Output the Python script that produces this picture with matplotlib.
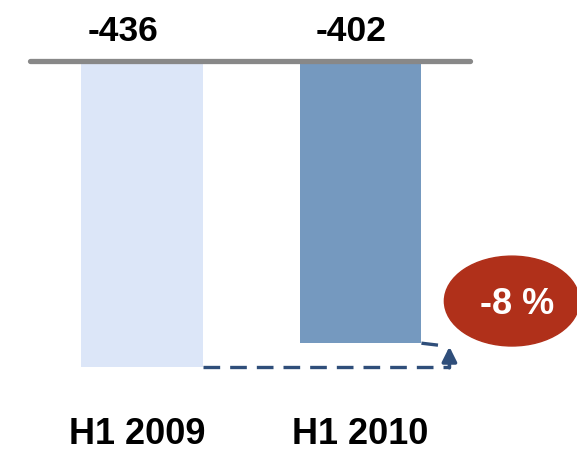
import matplotlib.pyplot as plt
from matplotlib.patches import Ellipse

periods = ['H1 2009', 'H1 2010']
values = [-436, -402]
change_label = '-8 %'
bar_colors = ['#dce6f8', '#7599bf']

plt.rcParams['font.family'] = ['Liberation Sans', 'DejaVu Sans']

fig = plt.figure(figsize=(5.77, 4.52), dpi=100)
ax = fig.add_axes([0, 0, 1, 1])
ax.set_xlim(-0.650, 1.991)
ax.set_ylim(-555.6, 88.3)
ax.axis('off')

x = list(range(len(values)))
ax.bar(x, values, width=0.558, color=bar_colors, zorder=2)

# baseline
ax.plot([-0.513, 1.501], [0, 0], color='#888888', lw=3.8,
        solid_capstyle='round', zorder=3)

# value labels above baseline
for i, v in enumerate(values):
    ax.text(i - 0.085 + 0.04 * i, 43, str(v), ha='center', va='center',
            fontsize=25.5, fontweight='bold', color='black')

# period labels
for i, p in enumerate(periods):
    ax.text(i - 0.02 * (1 - i), -530, p, ha='center', va='center',
            fontsize=26, fontweight='bold', color='black')

# dashed comparison line + arrow
arrow_c = '#2f4e7a'
half = 0.558 / 2
ax_x = 1.407
ax.plot([0 + half, ax_x], [values[0], values[0]], ls=(0, (5, 3)),
        color=arrow_c, lw=2.4, zorder=3)
ax.plot([1 + half, 1.36], [values[1], values[1] - 3], ls=(0, (5, 3)),
        color=arrow_c, lw=2.4, zorder=3)
ax.annotate('', xy=(ax_x, values[1] - 5), xytext=(ax_x, values[0] - 1),
            arrowprops=dict(arrowstyle='-|>', color=arrow_c, lw=2.6,
                            mutation_scale=22, shrinkA=0, shrinkB=0))

# change bubble
ell = Ellipse((1.693, -342), 0.618, 128, color='#b0301a', zorder=4)
ax.add_patch(ell)
ax.text(1.715, -346, change_label, ha='center', va='center', fontsize=26,
        fontweight='bold', color='white', zorder=5)

fig.savefig('out.png', dpi=100)
